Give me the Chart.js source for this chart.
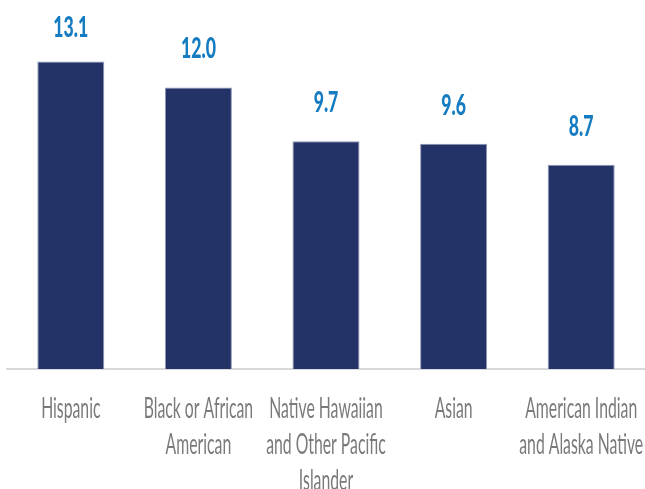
<!DOCTYPE html>
<html>
<head>
<meta charset="utf-8">
<script src="https://cdn.jsdelivr.net/npm/chart.js@4"></script>
<style>
html,body{margin:0;padding:0;background:#fff;}
#wrap{width:645px;height:489px;}
</style>
</head>
<body>
<div id="wrap"><canvas id="c" width="645" height="489"></canvas></div>
<script>
const categories = [
  ['Hispanic'],
  ['Black or African', 'American'],
  ['Native Hawaiian', 'and Other Pacific', 'Islander'],
  ['Asian'],
  ['American Indian', 'and Alaska Native']
];
const values = [13.1, 12.0, 9.7, 9.6, 8.7];
const valueLabels = ['13.1', '12.0', '9.7', '9.6', '8.7'];

const FONT = "Lato, 'Open Sans', sans-serif";

// condensed look: draw text squeezed horizontally
function drawSqueezed(ctx, text, x, y, sx) {
  ctx.save();
  ctx.translate(x, y);
  ctx.scale(sx, 1);
  ctx.fillText(text, 0, 0);
  ctx.restore();
}

const textPlugin = {
  id: 'textLabels',
  afterDraw(chart) {
    const ctx = chart.ctx;
    const meta = chart.getDatasetMeta(0);
    const xs = chart.scales.x;
    const base = chart.chartArea.bottom;
    ctx.save();
    ctx.textAlign = 'center';
    ctx.textBaseline = 'alphabetic';

    // values above bars
    ctx.font = "900 28px " + FONT;
    ctx.fillStyle = '#157cc1';
    const sxv = 35 / ctx.measureText('13.1').width;
    meta.data.forEach((bar, i) => {
      const y = Math.max(bar.y - 29, chart.chartArea.top + 20);
      drawSqueezed(ctx, valueLabels[i], bar.x, y, sxv);
    });

    // category labels
    ctx.font = "normal 28px " + FONT;
    ctx.fillStyle = '#7a7a7a';
    const sxc = 112 / ctx.measureText('American Indian').width;
    categories.forEach((lines, i) => {
      const x = xs.getPixelForTick(i);
      lines.forEach((ln, j) => {
        drawSqueezed(ctx, ln, x, base + 49 + j * 36, sxc);
      });
    });
    ctx.restore();
  }
};

new Chart(document.getElementById('c'), {
  type: 'bar',
  data: {
    labels: categories,
    datasets: [{
      data: values,
      backgroundColor: '#233367',
      borderColor: '#8d96b4',
      borderWidth: {top: 1, left: 1, right: 1, bottom: 0},
      barPercentage: 0.525,
      categoryPercentage: 1.0
    }]
  },
  options: {
    responsive: false,
    animation: false,
    devicePixelRatio: 1,
    layout: { padding: { top: 17, left: 7, right: 0, bottom: 0 } },
    plugins: { legend: { display: false }, tooltip: { enabled: false } },
    scales: {
      y: { display: false, min: 0, max: 15 },
      x: {
        afterFit(s) { s.height = 120; s.paddingLeft = 0; s.paddingRight = 0; },
        grid: { display: false, drawTicks: false },
        border: { display: true, color: '#d9d9d9', width: 2 },
        ticks: { display: false }
      }
    }
  },
  plugins: [textPlugin]
});
</script>
</body>
</html>
